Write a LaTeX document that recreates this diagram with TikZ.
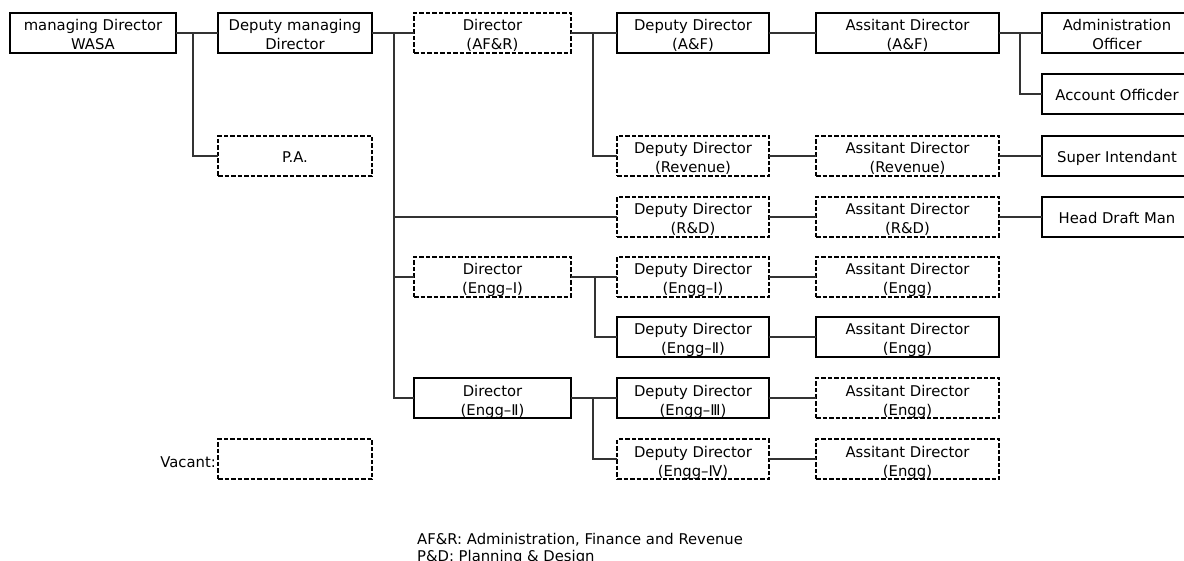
\documentclass[tikz,border=0pt]{standalone}
\usepackage{fontspec}
\setmainfont{DejaVu Sans}
% box with two centred lines of text
\newcommand\orgtwo[7]{%
  \node[#1, minimum width=#5pt] (#2) at (#3,#4) {};
  \node[txt] (#2-1) at ([yshift=-18pt]#2.north) {#6};
  \node[txt] (#2-2) at ([yshift=-37pt]#2.north) {#7};
}
% box with one line of text
\newcommand\orgone[6]{%
  \node[#1, minimum width=#5pt] (#2) at (#3,#4) {};
  \node[txt] (#2-1) at ([yshift=-27pt]#2.north) {#6};
}
\begin{document}
\begin{tikzpicture}[x=1pt,y=-1pt,
  every node/.style={font=\fontsize{14.8}{17}\selectfont},
  unit/.style={draw=black, line width=2pt, minimum height=40pt,
    inner sep=0pt, outer sep=0pt, anchor=north west},
  vacant/.style={unit, line width=1.8pt, dash pattern=on 4.5pt off 2pt},
  txt/.style={anchor=base, inner sep=0pt},
  link/.style={draw=black!80, line width=1.1pt}]
\useasboundingbox (0,0) rectangle (1184,561);
\clip (0,0) rectangle (1184,561);

% top management
\orgtwo{unit}{md}{10}{13}{166}{managing Director}{WASA}
\orgtwo{unit}{dmd}{218}{13}{154}{Deputy managing}{Director}
\orgone{vacant}{pa}{218}{136}{154}{P.A.}

% directors
\orgtwo{vacant}{dafr}{414}{13}{157}{Director}{(AF\&R)}
\orgtwo{vacant}{de1}{414}{257}{157}{Director}{(Engg–Ⅰ)}
\orgtwo{unit}{de2}{414}{378}{157}{Director}{(Engg–Ⅱ)}

% deputy directors
\orgtwo{unit}{ddaf}{617}{13}{152}{Deputy Director}{(A\&F)}
\orgtwo{vacant}{ddrev}{617}{136}{152}{Deputy Director}{(Revenue)}
\orgtwo{vacant}{ddrd}{617}{197}{152}{Deputy Director}{(R\&D)}
\orgtwo{vacant}{dde1}{617}{257}{152}{Deputy Director}{(Engg–Ⅰ)}
\orgtwo{unit}{dde2}{617}{317}{152}{Deputy Director}{(Engg–Ⅱ)}
\orgtwo{unit}{dde3}{617}{378}{152}{Deputy Director}{(Engg–Ⅲ)}
\orgtwo{vacant}{dde4}{617}{439}{152}{Deputy Director}{(Engg–Ⅳ)}

% assistant directors
\orgtwo{unit}{adaf}{816}{13}{183}{Assitant Director}{(A\&F)}
\orgtwo{vacant}{adrev}{816}{136}{183}{Assitant Director}{(Revenue)}
\orgtwo{vacant}{adrd}{816}{197}{183}{Assitant Director}{(R\&D)}
\orgtwo{vacant}{ade1}{816}{257}{183}{Assitant Director}{(Engg)}
\orgtwo{unit}{ade2}{816}{317}{183}{Assitant Director}{(Engg)}
\orgtwo{vacant}{ade3}{816}{378}{183}{Assitant Director}{(Engg)}
\orgtwo{vacant}{ade4}{816}{439}{183}{Assitant Director}{(Engg)}

% officers
\orgtwo{unit}{ao}{1042}{13}{150}{Administration}{Officer}
\orgone{unit}{acc}{1042}{74}{150}{Account Officder}
\orgone{unit}{si}{1042}{136}{150}{Super Intendant}
\orgone{unit}{hdm}{1042}{197}{150}{Head Draft Man}

% legend
\node[vacant, minimum width=154pt] (vac) at (218,439) {};
\node[txt, anchor=base east] (vaclbl) at (216,467) {Vacant:};
\node[txt, anchor=base west] (fn1) at (417,544) {AF\&R: Administration, Finance and Revenue};
\node[txt, anchor=base west] (fn2) at (417,561) {P\&D: Planning \& Design};

% junction points
\coordinate (j0) at (193,33);
\coordinate (j1) at (394,33);
\coordinate (j2) at (593,33);
\coordinate (j3) at (1020,33);
\coordinate (j4) at (595,277);
\coordinate (j5) at (593,398);

% connectors
\path[link] (md.east) -- (dmd.west);
\path[link] (j0) |- (pa.west);
\path[link] (dmd.east) -- (dafr.west);
\path[link] (j1) |- (de2.west);
\path[link] (j1 |- ddrd.west) -- (ddrd.west);
\path[link] (j1 |- de1.west) -- (de1.west);
\path[link] (dafr.east) -- (ddaf.west);
\path[link] (j2) |- (ddrev.west);
\path[link] (ddaf.east) -- (adaf.west);
\path[link] (adaf.east) -- (ao.west);
\path[link] (j3) |- (acc.west);
\path[link] (ddrev.east) -- (adrev.west);
\path[link] (adrev.east) -- (si.west);
\path[link] (ddrd.east) -- (adrd.west);
\path[link] (adrd.east) -- (hdm.west);
\path[link] (de1.east) -- (dde1.west);
\path[link] (j4) |- (dde2.west);
\path[link] (dde1.east) -- (ade1.west);
\path[link] (dde2.east) -- (ade2.west);
\path[link] (de2.east) -- (dde3.west);
\path[link] (j5) |- (dde4.west);
\path[link] (dde3.east) -- (ade3.west);
\path[link] (dde4.east) -- (ade4.west);
\end{tikzpicture}
\end{document}
